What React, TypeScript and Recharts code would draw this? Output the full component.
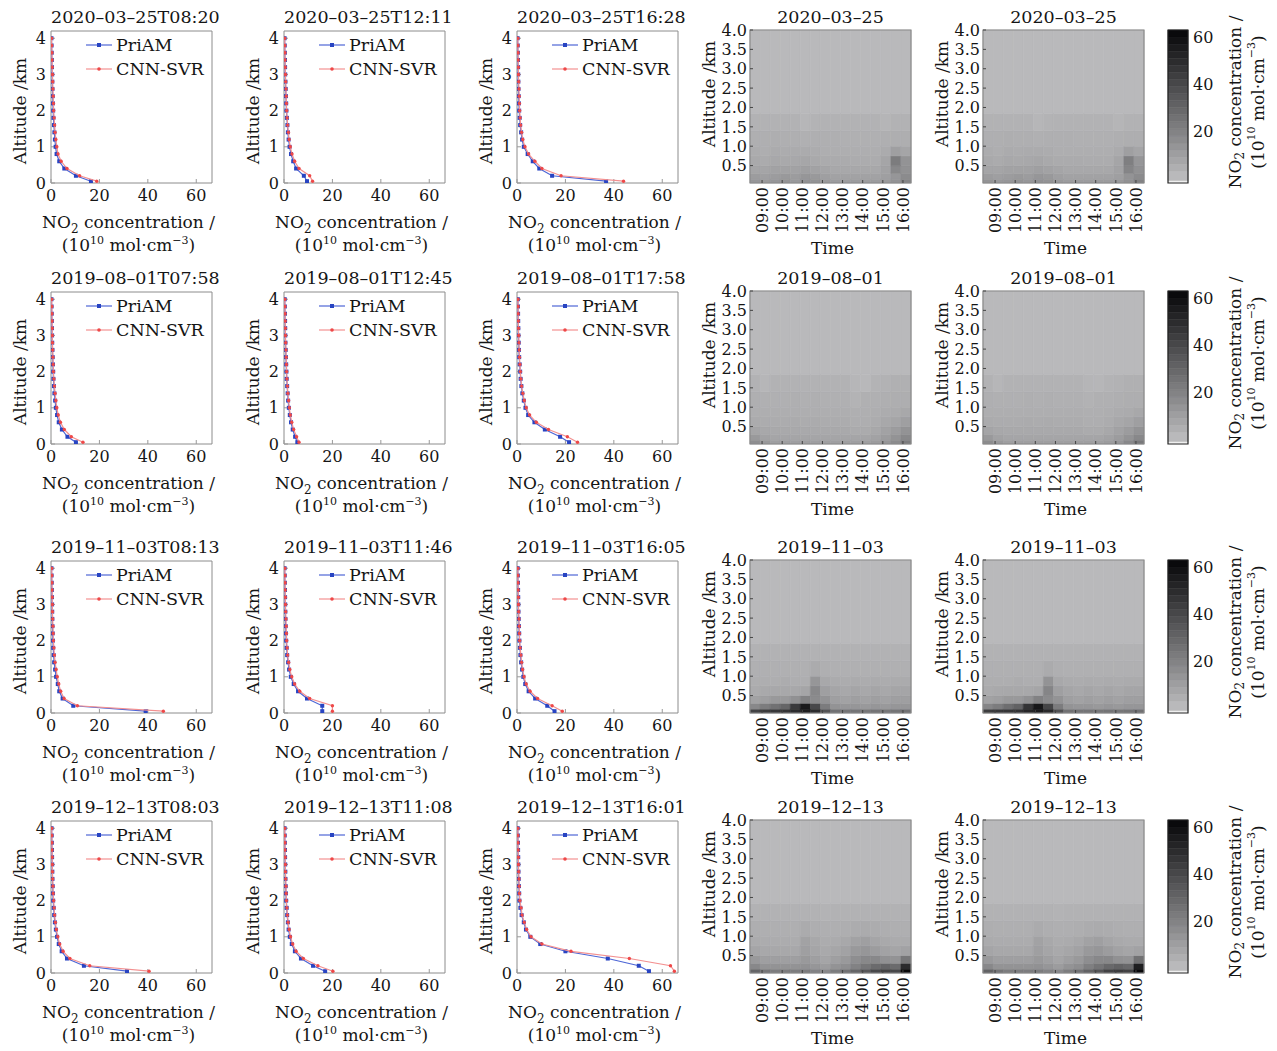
import React from "react";
import { Legend, ReferenceArea, Scatter, ScatterChart, XAxis, YAxis } from "recharts";

const FONT = '"DejaVu Serif", "Liberation Serif", serif';
const INK = "#151515";

// retrieval levels of the vertical profiles (km)
const altitudeKm = [0.05, 0.2, 0.4, 0.6, 0.8, 1.0, 1.2, 1.4, 1.6, 1.8, 2.0, 2.2, 2.4, 2.6, 2.8, 3.0, 3.2, 3.4, 3.6, 3.8, 4.0];

const concTicks = [0, 20, 40, 60];
const altTicks = [0, 1, 2, 3, 4];
const heatAltTicks = [0.5, 1.0, 1.5, 2.0, 2.5, 3.0, 3.5, 4.0];
const hourTicks = [9, 10, 11, 12, 13, 14, 15, 16];
const colorbarTicks = [20, 40, 60];

// NO2 profiles, 10^10 mol/cm3 (PriAM = p_, CNN-SVR = c_)
const p_20200325T0820 = [16.5, 10.3, 5.5, 3.4, 2.3, 1.9, 1.6, 1.4, 1.2, 1.0, 0.9, 0.8, 0.7, 0.6, 0.55, 0.5, 0.4, 0.35, 0.3, 0.25, 0.2];
const c_20200325T0820 = [18.9, 11.8, 6.6, 4.2, 2.9, 2.4, 2.0, 1.7, 1.5, 1.3, 1.1, 1.0, 0.9, 0.8, 0.7, 0.6, 0.5, 0.45, 0.4, 0.3, 0.25];
const p_20200325T1211 = [9.5, 8.2, 5.0, 3.8, 2.9, 2.3, 1.9, 1.6, 1.4, 1.2, 1.0, 0.9, 0.8, 0.7, 0.6, 0.5, 0.45, 0.4, 0.35, 0.3, 0.25];
const c_20200325T1211 = [11.8, 10.6, 6.2, 4.4, 3.3, 2.6, 2.1, 1.8, 1.5, 1.3, 1.1, 1.0, 0.9, 0.8, 0.7, 0.6, 0.5, 0.45, 0.4, 0.35, 0.3];
const p_20200325T1628 = [36.8, 14.5, 9.2, 6.5, 4.4, 2.8, 2.1, 1.7, 1.3, 1.1, 0.9, 0.8, 0.7, 0.6, 0.55, 0.5, 0.45, 0.4, 0.35, 0.3, 0.25];
const c_20200325T1628 = [44.0, 18.2, 10.3, 7.4, 4.8, 3.3, 2.4, 1.9, 1.5, 1.3, 1.1, 1.0, 0.9, 0.8, 0.7, 0.6, 0.55, 0.5, 0.45, 0.4, 0.35];

const p_20190801T0758 = [10.3, 6.8, 4.5, 3.2, 2.5, 2.0, 1.7, 1.4, 1.2, 1.0, 0.9, 0.8, 0.7, 0.6, 0.5, 0.45, 0.4, 0.35, 0.3, 0.25, 0.2];
const c_20190801T0758 = [13.2, 8.4, 5.5, 3.9, 3.0, 2.4, 2.0, 1.7, 1.4, 1.2, 1.0, 0.9, 0.8, 0.7, 0.6, 0.55, 0.5, 0.45, 0.4, 0.35, 0.3];
const p_20190801T1245 = [5.5, 4.6, 3.6, 2.9, 2.4, 2.0, 1.7, 1.5, 1.3, 1.1, 1.0, 0.9, 0.8, 0.7, 0.6, 0.55, 0.5, 0.45, 0.4, 0.35, 0.3];
const c_20190801T1245 = [6.2, 5.2, 4.0, 3.2, 2.6, 2.2, 1.9, 1.6, 1.4, 1.2, 1.1, 1.0, 0.9, 0.8, 0.7, 0.6, 0.55, 0.5, 0.45, 0.4, 0.35];
const p_20190801T1758 = [21.5, 17.8, 11.5, 7.2, 4.6, 3.5, 2.8, 2.2, 1.8, 1.5, 1.3, 1.1, 0.9, 0.8, 0.7, 0.6, 0.55, 0.5, 0.45, 0.4, 0.35];
const c_20190801T1758 = [25.0, 20.8, 13.0, 8.0, 5.2, 3.8, 3.0, 2.4, 1.9, 1.6, 1.4, 1.2, 1.0, 0.9, 0.8, 0.7, 0.6, 0.55, 0.5, 0.45, 0.4];

const p_20191103T0813 = [39.1, 9.2, 4.8, 3.4, 2.8, 2.1, 1.7, 1.3, 1.1, 0.9, 0.8, 0.7, 0.6, 0.55, 0.5, 0.45, 0.4, 0.35, 0.3, 0.25, 0.2];
const c_20191103T0813 = [46.4, 10.9, 5.4, 4.0, 3.2, 2.6, 2.1, 1.7, 1.4, 1.2, 1.0, 0.9, 0.8, 0.7, 0.6, 0.55, 0.5, 0.45, 0.4, 0.35, 0.3];
const p_20191103T1146 = [15.8, 15.8, 9.5, 5.8, 4.0, 2.8, 2.1, 1.7, 1.3, 1.1, 0.9, 0.8, 0.7, 0.6, 0.55, 0.5, 0.45, 0.4, 0.35, 0.3, 0.25];
const c_20191103T1146 = [20.0, 20.0, 10.6, 6.5, 4.4, 3.2, 2.4, 1.9, 1.5, 1.3, 1.1, 1.0, 0.9, 0.8, 0.7, 0.6, 0.55, 0.5, 0.45, 0.4, 0.35];
const p_20191103T1605 = [15.5, 12.5, 7.5, 4.8, 3.4, 2.6, 2.1, 1.7, 1.4, 1.2, 1.0, 0.9, 0.8, 0.7, 0.6, 0.55, 0.5, 0.45, 0.4, 0.35, 0.3];
const c_20191103T1605 = [18.7, 14.5, 8.5, 5.4, 3.8, 2.9, 2.3, 1.9, 1.6, 1.3, 1.1, 1.0, 0.9, 0.8, 0.7, 0.6, 0.55, 0.5, 0.45, 0.4, 0.35];

const p_20191213T0803 = [31.4, 13.6, 6.6, 4.4, 3.2, 2.5, 2.0, 1.6, 1.3, 1.1, 0.9, 0.8, 0.7, 0.6, 0.55, 0.5, 0.45, 0.4, 0.35, 0.3, 0.25];
const c_20191213T0803 = [40.5, 16.0, 7.8, 5.0, 3.6, 2.8, 2.2, 1.8, 1.5, 1.3, 1.1, 0.9, 0.8, 0.7, 0.6, 0.55, 0.5, 0.45, 0.4, 0.35, 0.3];
const p_20191213T1108 = [17.0, 12.0, 7.0, 4.5, 3.2, 2.4, 1.9, 1.6, 1.3, 1.1, 0.9, 0.8, 0.7, 0.6, 0.55, 0.5, 0.45, 0.4, 0.35, 0.3, 0.25];
const c_20191213T1108 = [20.2, 14.0, 8.0, 5.0, 3.6, 2.7, 2.1, 1.7, 1.4, 1.2, 1.0, 0.9, 0.8, 0.7, 0.6, 0.55, 0.5, 0.45, 0.4, 0.35, 0.3];
const p_20191213T1601 = [54.5, 50.3, 37.5, 20.0, 9.6, 5.5, 3.7, 2.8, 1.9, 1.4, 1.0, 0.9, 0.8, 0.7, 0.6, 0.55, 0.5, 0.45, 0.4, 0.35, 0.3];
const c_20191213T1601 = [65.0, 63.4, 46.4, 22.3, 10.3, 5.8, 4.0, 3.0, 2.1, 1.7, 1.2, 1.0, 0.9, 0.8, 0.7, 0.6, 0.55, 0.5, 0.45, 0.4, 0.35];

// daily time-height cross sections: column edges (hour) and band edges (km)
const heatTimeEdges = [8.4, 8.9, 9.4, 9.9, 10.4, 10.9, 11.4, 11.9, 12.4, 12.9, 13.4, 13.9, 14.4, 14.9, 15.4, 15.9, 16.4];
const heatAltEdges = [0.05, 0.15, 0.3, 0.5, 0.75, 1.0, 1.4, 1.85, 4.0];

// rows go from the lowest band upwards
const heatPriam_20200325 = [
  [13, 12, 13, 14, 12, 15, 14, 12, 11, 11, 11, 11, 11, 12, 14, 19],
  [11, 10, 11, 12, 11, 13, 12, 10, 9, 9, 9, 9, 9, 10, 13, 17],
  [8, 8, 9, 9, 9, 10, 9, 8, 7, 7, 7, 7, 7, 9, 18, 15],
  [6.5, 6, 7, 6.5, 7, 7.5, 6.5, 6, 6, 6, 5.5, 5.5, 5.5, 8, 22, 14],
  [5.5, 5, 6, 5.5, 6, 6, 5.5, 5, 5, 5, 5, 5, 5, 6, 10, 8],
  [4.5, 4.5, 5, 4.5, 4.5, 4, 4.5, 4.5, 4.5, 4, 4, 4, 4, 4.5, 5, 5],
  [3.5, 3.5, 3.5, 3.5, 3.5, 2, 3, 3.5, 3.5, 3.5, 3.5, 3.5, 3.5, 2.5, 3.5, 3.5],
  [1, 1, 1, 1, 1, 1, 1, 1, 1, 1, 1, 1, 1, 1, 1, 1],
];
const heatCnn_20200325 = [
  [14, 12, 13, 14, 13, 15, 14, 12, 11, 11, 11, 11, 11, 12, 15, 20],
  [11, 10, 11, 12, 11, 13, 12, 10, 9, 9, 9, 9, 9, 10, 14, 17],
  [8, 8, 9, 9, 9, 10, 9, 8, 7, 7, 7, 7, 7, 9, 19, 15],
  [6.5, 6, 7, 6.5, 7, 7.5, 6.5, 6, 6, 6, 5.5, 5.5, 5.5, 8, 21, 13],
  [5.5, 5, 6, 5.5, 6, 6, 5.5, 5, 5, 5, 5, 5, 5, 6, 10, 8],
  [4.5, 4.5, 5, 4.5, 4.5, 4, 4.5, 4.5, 4.5, 4, 4, 4, 4, 4.5, 5, 5],
  [3.5, 3.5, 3.5, 3.5, 3.5, 2, 3, 3.5, 3.5, 3.5, 3.5, 3.5, 3.5, 2.5, 3.5, 3.5],
  [1, 1, 1, 1, 1, 1, 1, 1, 1, 1, 1, 1, 1, 1, 1, 1],
];
const heatPriam_20190801 = [
  [16, 12, 10, 10, 10, 10, 10, 10, 10, 10, 10, 10, 11, 13, 17, 22],
  [12, 9, 8, 8, 8, 8, 8, 8, 8, 8, 8, 8, 9, 11, 14, 18],
  [8, 7, 6.5, 6.5, 6.5, 6.5, 6.5, 6.5, 6.5, 6.5, 6, 6, 7, 9, 11, 14],
  [6, 5.5, 5.5, 5.5, 6, 5.5, 6, 5.5, 5.5, 5.5, 5, 5, 5.5, 7, 8, 10],
  [5, 5, 5, 5, 5, 5, 5, 5, 5, 5, 4.5, 4.5, 5, 5.5, 6, 7],
  [4.5, 4, 4, 4, 4.5, 4, 4.5, 4, 4, 4, 3, 4, 4, 4.5, 5, 5],
  [3.5, 2, 3.5, 3.5, 3.5, 3.5, 3.5, 3.5, 3.5, 3.5, 2, 1.5, 3, 3.5, 4, 4],
  [1, 1, 1, 1, 1, 1, 1, 1, 1, 1, 1, 1, 1, 1, 1, 1],
];
const heatCnn_20190801 = [
  [17, 12, 10, 10, 10, 10, 10, 10, 10, 10, 10, 10, 11, 13, 18, 23],
  [12, 9, 8, 8, 8, 8, 8, 8, 8, 8, 8, 8, 9, 11, 14, 18],
  [8, 7, 6.5, 6.5, 6.5, 6.5, 6.5, 6.5, 6.5, 6.5, 6, 6, 7, 9, 11, 14],
  [6, 5.5, 5.5, 5.5, 6, 5.5, 6, 5.5, 5.5, 5.5, 5, 5, 5.5, 7, 8, 10],
  [5, 5, 5, 5, 5, 5, 5, 5, 5, 5, 4.5, 4.5, 5, 5.5, 6, 7],
  [4.5, 4, 4, 4, 4.5, 4, 4.5, 4, 4, 4, 3.5, 4, 4, 4.5, 5, 5],
  [3.5, 2, 3.5, 3.5, 3.5, 3.5, 3.5, 3.5, 3.5, 3.5, 2.5, 2, 3, 3.5, 4, 4],
  [1, 1, 1, 1, 1, 1, 1, 1, 1, 1, 1, 1, 1, 1, 1, 1],
];
const heatPriam_20191103 = [
  [42, 45, 46, 47, 50, 55, 50, 36, 26, 25, 25, 24, 25, 24, 25, 26],
  [18, 22, 26, 30, 45, 56, 40, 22, 14, 13, 13, 12, 13, 12, 13, 13],
  [9, 10, 12, 12, 15, 20, 17, 14, 10, 9, 10, 9, 10, 9, 10, 10],
  [6, 6.5, 7, 7, 7, 8, 18, 10, 8, 7, 8, 7, 8, 7, 8, 8],
  [5, 5, 5, 5.5, 5, 5, 13, 7, 6, 5.5, 6, 5.5, 6, 5.5, 6, 6],
  [4, 4, 4, 4, 4, 4, 6, 4.5, 4, 4, 4, 4, 4, 4, 4, 4],
  [3.5, 3.5, 3.5, 3.5, 3.5, 3.5, 3.5, 3.5, 3.5, 3.5, 3.5, 3.5, 3.5, 3.5, 3.5, 3.5],
  [1, 1, 1, 1, 1, 1, 1, 1, 1, 1, 1, 1, 1, 1, 1, 1],
];
const heatCnn_20191103 = [
  [44, 46, 47, 48, 52, 56, 51, 37, 26, 25, 25, 24, 25, 24, 25, 26],
  [19, 22, 27, 31, 47, 57, 41, 22, 14, 13, 13, 12, 13, 12, 13, 13],
  [9, 10, 12, 12, 15, 20, 17, 14, 10, 9, 10, 9, 10, 9, 10, 10],
  [6, 6.5, 7, 7, 7, 8, 19, 10, 8, 7, 8, 7, 8, 7, 8, 8],
  [5, 5, 5, 5.5, 5, 5, 14, 7, 6, 5.5, 6, 5.5, 6, 5.5, 6, 6],
  [4, 4, 4, 4, 4, 4, 6, 4.5, 4, 4, 4, 4, 4, 4, 4, 4],
  [3.5, 3.5, 3.5, 3.5, 3.5, 3.5, 3.5, 3.5, 3.5, 3.5, 3.5, 3.5, 3.5, 3.5, 3.5, 3.5],
  [1, 1, 1, 1, 1, 1, 1, 1, 1, 1, 1, 1, 1, 1, 1, 1],
];
const heatPriam_20191213 = [
  [30, 24, 22, 22, 22, 22, 20, 18, 22, 26, 30, 35, 40, 42, 40, 62],
  [18, 14, 14, 14, 14, 15, 13, 11, 14, 16, 20, 24, 28, 30, 28, 50],
  [12, 10, 10, 10, 10, 12, 10, 8, 10, 12, 16, 18, 18, 15, 14, 24],
  [8, 7, 7, 7, 7, 10, 8, 6.5, 7.5, 9, 12, 13, 11, 9, 8, 9],
  [6, 5.5, 5.5, 5.5, 5.5, 9, 7, 5.5, 6, 7, 9, 10, 8, 6.5, 6, 6],
  [5, 4.5, 4.5, 4.5, 4.5, 6, 5, 4.5, 4.5, 5, 5.5, 6, 5.5, 5, 4.5, 4.5],
  [3.5, 3.5, 3.5, 3.5, 3.5, 3.5, 3.5, 3, 3.5, 3.5, 3.5, 3.5, 3.5, 3.5, 3.5, 3.5],
  [1, 1, 1, 1, 1, 1, 1, 1, 1, 1, 1, 1, 1, 1, 1, 1],
];
const heatCnn_20191213 = [
  [31, 25, 22, 22, 22, 22, 20, 18, 22, 26, 31, 36, 42, 44, 42, 64],
  [18, 14, 14, 14, 14, 15, 13, 11, 14, 16, 21, 25, 29, 31, 29, 54],
  [12, 10, 10, 10, 10, 12, 10, 8, 10, 12, 16, 18, 18, 15, 14, 26],
  [8, 7, 7, 7, 7, 10, 8, 6.5, 7.5, 9, 12, 13, 11, 9, 8, 9],
  [6, 5.5, 5.5, 5.5, 5.5, 9, 7, 5.5, 6, 7, 9, 10, 8, 6.5, 6, 6],
  [5, 4.5, 4.5, 4.5, 4.5, 6, 5, 4.5, 4.5, 5, 5.5, 6, 5.5, 5, 4.5, 4.5],
  [3.5, 3.5, 3.5, 3.5, 3.5, 3.5, 3.5, 3, 3.5, 3.5, 3.5, 3.5, 3.5, 3.5, 3.5, 3.5],
  [1, 1, 1, 1, 1, 1, 1, 1, 1, 1, 1, 1, 1, 1, 1, 1],
];

// colour bar level edges
const colorEdges = [-1, 3, 6, 9, 12, 15, 18, 21, 24, 27, 30, 33, 36, 39, 42, 45, 48, 51, 54, 57, 60, 63];

const seriesStyles = [
  { name: "PriAM", line: "#4d66d6", dot: "#2844c2" },
  { name: "CNN-SVR", line: "#f39090", dot: "#ee4848" },
];

const rows = [
  {
    day: "2020–03–25",
    profiles: [
      { title: "2020–03–25T08:20", priam: p_20200325T0820, cnn: c_20200325T0820 },
      { title: "2020–03–25T12:11", priam: p_20200325T1211, cnn: c_20200325T1211 },
      { title: "2020–03–25T16:28", priam: p_20200325T1628, cnn: c_20200325T1628 },
    ],
    heat: [heatPriam_20200325, heatCnn_20200325],
  },
  {
    day: "2019–08–01",
    profiles: [
      { title: "2019–08–01T07:58", priam: p_20190801T0758, cnn: c_20190801T0758 },
      { title: "2019–08–01T12:45", priam: p_20190801T1245, cnn: c_20190801T1245 },
      { title: "2019–08–01T17:58", priam: p_20190801T1758, cnn: c_20190801T1758 },
    ],
    heat: [heatPriam_20190801, heatCnn_20190801],
  },
  {
    day: "2019–11–03",
    profiles: [
      { title: "2019–11–03T08:13", priam: p_20191103T0813, cnn: c_20191103T0813 },
      { title: "2019–11–03T11:46", priam: p_20191103T1146, cnn: c_20191103T1146 },
      { title: "2019–11–03T16:05", priam: p_20191103T1605, cnn: c_20191103T1605 },
    ],
    heat: [heatPriam_20191103, heatCnn_20191103],
  },
  {
    day: "2019–12–13",
    profiles: [
      { title: "2019–12–13T08:03", priam: p_20191213T0803, cnn: c_20191213T0803 },
      { title: "2019–12–13T11:08", priam: p_20191213T1108, cnn: c_20191213T1108 },
      { title: "2019–12–13T16:01", priam: p_20191213T1601, cnn: c_20191213T1601 },
    ],
    heat: [heatPriam_20191213, heatCnn_20191213],
  },
];

const rowTops = [0, 261, 530, 790];
const profileLefts = [0, 233, 466];
const heatLefts = [690, 923];
const colorbarLeft = 1150;

function grayFor(v: number) {
  const g = Math.max(8, Math.min(190, Math.round(188 - 2.9 * v)));
  return `rgb(${g},${g},${Math.min(255, g + 2)})`;
}

const tickStyle = { fill: INK, fontSize: 16, fontFamily: FONT };

const titleStyle = (left: number, width: number): React.CSSProperties => ({
  position: "absolute",
  left,
  width,
  top: 7,
  textAlign: "center",
  fontSize: 17.5,
  lineHeight: "20px",
  fontFamily: FONT,
  color: INK,
  whiteSpace: "nowrap",
});

function ConcLabel(props: any) {
  const vb = props.viewBox || { x: 51, y: 183, width: 161, height: 30 };
  const cx = vb.x + vb.width / 2 - 3;
  return (
    <g fontFamily={FONT} fill={INK} fontSize={17}>
      <text x={cx} y={vb.y + 44.5} textAnchor="middle">
        NO<tspan dy={5} fontSize={12}>2</tspan>
        <tspan dy={-5}> concentration /</tspan>
      </text>
      <text x={cx} y={vb.y + 68} textAnchor="middle">
        (10<tspan dy={-7} fontSize={11}>10</tspan>
        <tspan dy={7}> mol·cm</tspan>
        <tspan dy={-7} fontSize={11}>−3</tspan>
        <tspan dy={7}>)</tspan>
      </text>
    </g>
  );
}

function AltLabel(props: any) {
  const vb = props.viewBox || { x: 0, y: 31, width: 51, height: 152 };
  const x = vb.x + props.dxPos;
  const y = vb.y + props.dyPos;
  return (
    <text
      x={x}
      y={y}
      transform={`rotate(-90, ${x}, ${y})`}
      textAnchor="middle"
      dominantBaseline="central"
      fontFamily={FONT}
      fontSize={17}
      fill={INK}
    >
      Altitude /km
    </text>
  );
}

function TimeLabel(props: any) {
  const vb = props.viewBox || { x: 750, y: 183, width: 161, height: 60 };
  return (
    <text x={vb.x + vb.width / 2 + 2} y={vb.y + 71} textAnchor="middle" fontFamily={FONT} fontSize={17} fill={INK}>
      Time
    </text>
  );
}

function ColorbarLabel(props: any) {
  const vb = props.viewBox || { x: 38, y: 30, width: 30, height: 153 };
  const x1 = vb.x + 47;
  const x2 = vb.x + 70;
  const y = vb.y + 72;
  return (
    <g fontFamily={FONT} fontSize={17} fill={INK}>
      <text x={x1} y={y} transform={`rotate(-90, ${x1}, ${y})`} textAnchor="middle" dominantBaseline="central">
        NO<tspan dy={5} fontSize={12}>2</tspan>
        <tspan dy={-5}> concentration /</tspan>
      </text>
      <text x={x2} y={y} transform={`rotate(-90, ${x2}, ${y})`} textAnchor="middle" dominantBaseline="central">
        (10<tspan dy={-7} fontSize={11}>10</tspan>
        <tspan dy={7}> mol·cm</tspan>
        <tspan dy={-7} fontSize={11}>−3</tspan>
        <tspan dy={7}>)</tspan>
      </text>
    </g>
  );
}

function HourTick(props: any) {
  const { x, y, payload } = props;
  const label = String(payload.value).padStart(2, "0") + ":00";
  return (
    <text
      x={x}
      y={y}
      transform={`rotate(-90, ${x}, ${y})`}
      textAnchor="end"
      dy="0.36em"
      fontSize={16}
      fontFamily={FONT}
      fill={INK}
    >
      {label}
    </text>
  );
}

function ProfileLegend() {
  return (
    <div style={{ fontFamily: FONT, fontSize: 17.5, color: INK }}>
      {seriesStyles.map((s, i) => (
        <div key={s.name} style={{ display: "flex", alignItems: "center", height: 24 }}>
          <svg width={26} height={10} style={{ marginRight: 4 }}>
            <line x1={0} x2={26} y1={5} y2={5} stroke={s.line} strokeWidth={1.2} />
            {i === 0 ? (
              <rect x={11} y={3} width={4} height={4} fill={s.dot} />
            ) : (
              <circle cx={13} cy={5} r={1.8} fill={s.dot} />
            )}
          </svg>
          <span>{s.name}</span>
        </div>
      ))}
    </div>
  );
}

const squareDot = (color: string) => (p: any) =>
  <rect x={p.cx - 2} y={p.cy - 2} width={4} height={4} fill={color} />;
const roundDot = (color: string) => (p: any) =>
  <circle cx={p.cx} cy={p.cy} r={1.7} fill={color} />;
const noDot = () => <g />;

function ProfileChart({ title, priam, cnn, left, top }: any) {
  const priamPts = altitudeKm.map((a, i) => ({ conc: priam[i], alt: a }));
  const cnnPts = altitudeKm.map((a, i) => ({ conc: cnn[i], alt: a }));
  return (
    <div style={{ position: "absolute", left, top, width: 230, height: 260 }}>
      <div style={titleStyle(51, 161)}>{title}</div>
      <ScatterChart width={230} height={260} margin={{ top: 31, right: 18, bottom: 47, left: 0 }}>
        <XAxis
          type="number"
          dataKey="conc"
          domain={[0, 66.5]}
          ticks={concTicks}
          interval={0}
          allowDataOverflow
          height={30}
          axisLine={false}
          tickSize={-4}
          tickMargin={11}
          tickLine={{ stroke: "#999" }}
          tick={tickStyle}
          label={(p: any) => <ConcLabel viewBox={p.viewBox} />}
        />
        <YAxis
          type="number"
          dataKey="alt"
          domain={[0, 4.2]}
          ticks={altTicks}
          interval={0}
          allowDataOverflow
          width={51}
          axisLine={false}
          tickSize={-4}
          tickMargin={9}
          tickLine={{ stroke: "#999" }}
          tick={tickStyle}
          label={(p: any) => <AltLabel viewBox={p.viewBox} dxPos={20} dyPos={80} />}
        />
        <ReferenceArea x1={0} x2={66.5} y1={0} y2={4.2} fill="none" stroke="#8c8c8c" strokeWidth={1} />
        <Scatter
          name={seriesStyles[0].name}
          data={priamPts}
          fill={seriesStyles[0].dot}
          line={{ stroke: seriesStyles[0].line, strokeWidth: 1.2 }}
          shape={squareDot(seriesStyles[0].dot)}
          isAnimationActive={false}
        />
        <Scatter
          name={seriesStyles[1].name}
          data={cnnPts}
          fill={seriesStyles[1].dot}
          line={{ stroke: seriesStyles[1].line, strokeWidth: 1.2 }}
          shape={roundDot(seriesStyles[1].dot)}
          isAnimationActive={false}
        />
        <Legend
          layout="horizontal"
          verticalAlign="middle"
          align="center"
          content={() => <ProfileLegend />}
          wrapperStyle={{ top: 33, left: 86, width: 130, height: 48 }}
        />
      </ScatterChart>
    </div>
  );
}

function HeatChart({ title, grid, left, top }: any) {
  const cells: { t0: number; t1: number; a0: number; a1: number; v: number; t: number; a: number }[] = [];
  grid.forEach((band: number[], r: number) =>
    band.forEach((v, c) => {
      const t0 = heatTimeEdges[c];
      const t1 = heatTimeEdges[c + 1];
      const a0 = heatAltEdges[r];
      const a1 = heatAltEdges[r + 1];
      cells.push({ t0, t1, a0, a1, v, t: (t0 + t1) / 2, a: (a0 + a1) / 2 });
    })
  );
  const t0 = heatTimeEdges[0];
  const t1 = heatTimeEdges[heatTimeEdges.length - 1];
  const a0 = heatAltEdges[0];
  const a1 = heatAltEdges[heatAltEdges.length - 1];
  return (
    <div style={{ position: "absolute", left, top, width: 230, height: 260 }}>
      <div style={titleStyle(60, 161)}>{title}</div>
      <ScatterChart width={230} height={260} margin={{ top: 30, right: 9, bottom: 17, left: 0 }}>
        <XAxis
          type="number"
          dataKey="t"
          domain={[t0, t1]}
          ticks={hourTicks}
          interval={0}
          allowDataOverflow
          height={60}
          axisLine={false}
          tickSize={-3}
          tickMargin={7}
          tickLine={{ stroke: "#444" }}
          tick={<HourTick />}
          label={(p: any) => <TimeLabel viewBox={p.viewBox} />}
        />
        <YAxis
          type="number"
          dataKey="a"
          domain={[a0, a1]}
          ticks={heatAltTicks}
          interval={0}
          allowDataOverflow
          width={60}
          axisLine={false}
          tickSize={-3}
          tickMargin={6}
          tickLine={{ stroke: "#444" }}
          tick={tickStyle}
          tickFormatter={(v: number) => v.toFixed(1)}
          label={(p: any) => <AltLabel viewBox={p.viewBox} dxPos={19} dyPos={64} />}
        />
        {cells.map((c, i) => (
          <ReferenceArea
            key={i}
            x1={c.t0}
            x2={c.t1}
            y1={c.a0}
            y2={c.a1}
            fill={grayFor(c.v)}
            fillOpacity={1}
            stroke={grayFor(c.v)}
            strokeWidth={0.6}
          />
        ))}
        <ReferenceArea x1={t0} x2={t1} y1={a0} y2={a1} fill="none" stroke="#8a8a8a" strokeWidth={1.2} />
        <Scatter data={cells} shape={noDot} legendType="none" isAnimationActive={false} />
      </ScatterChart>
    </div>
  );
}

function ColorBar({ top }: any) {
  const levels = colorEdges.slice(0, -1).map((lo, i) => ({ lo, hi: colorEdges[i + 1], x: 0.5, mid: (lo + colorEdges[i + 1]) / 2 }));
  return (
    <div style={{ position: "absolute", left: colorbarLeft, top, width: 127, height: 260 }}>
      <ScatterChart width={127} height={260} margin={{ top: 30, right: 59, bottom: 77, left: 18 }}>
        <XAxis type="number" dataKey="x" domain={[0, 1]} allowDataOverflow hide />
        <YAxis
          type="number"
          dataKey="mid"
          orientation="right"
          domain={[-2, 63]}
          ticks={colorbarTicks}
          interval={0}
          allowDataOverflow
          width={30}
          axisLine={false}
          tickSize={0}
          tickMargin={5}
          tick={tickStyle}
          label={(p: any) => <ColorbarLabel viewBox={p.viewBox} />}
        />
        <ReferenceArea x1={0} x2={1} y1={-2} y2={-1} fill="#f4f4f4" fillOpacity={1} />
        {levels.map((l, i) => (
          <ReferenceArea
            key={i}
            x1={0}
            x2={1}
            y1={l.lo}
            y2={l.hi}
            fill={grayFor(l.mid)}
            fillOpacity={1}
            stroke={grayFor(l.mid)}
            strokeWidth={0.5}
          />
        ))}
        <ReferenceArea x1={0} x2={1} y1={-2} y2={63} fill="none" stroke="#222" strokeWidth={1.2} />
        <Scatter data={levels} shape={noDot} legendType="none" isAnimationActive={false} />
      </ScatterChart>
    </div>
  );
}

export default function App() {
  return (
    <div
      style={{
        position: "absolute",
        left: 0,
        top: 0,
        width: 1277,
        height: 1051,
        background: "#fff",
        fontFamily: FONT,
        color: INK,
        overflow: "hidden",
      }}
    >
      {rows.map((row, r) => (
        <React.Fragment key={row.day}>
          {row.profiles.map((pr, c) => (
            <ProfileChart
              key={pr.title}
              title={pr.title}
              priam={pr.priam}
              cnn={pr.cnn}
              left={profileLefts[c]}
              top={rowTops[r]}
            />
          ))}
          {row.heat.map((grid, c) => (
            <HeatChart key={c} title={row.day} grid={grid} left={heatLefts[c]} top={rowTops[r]} />
          ))}
          <ColorBar top={rowTops[r]} />
        </React.Fragment>
      ))}
    </div>
  );
}
